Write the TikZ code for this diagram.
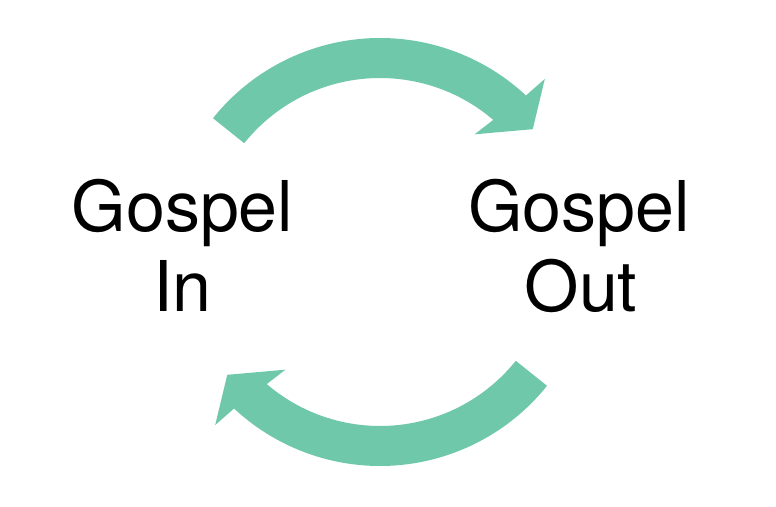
\documentclass[tikz,border=0pt]{standalone}
\usepackage{fontspec}
\setmainfont{TeX Gyre Heros}
\definecolor{arrowgreen}{RGB}{112,200,171}
\tikzset{
  lbl/.style={inner sep=0pt, anchor=base, font=\fontsize{70}{80}\selectfont, text=black},
  blockarrow/.style={fill=arrowgreen, draw=none}
}
\begin{document}
\begin{tikzpicture}[x=1pt,y=1pt]
\useasboundingbox (0,0) rectangle (776,506);
\coordinate (C) at (380,254);
% top arrow (In -> Out)
\begin{scope}[shift={(C)}]
  \fill[blockarrow] (141.3:214) arc[start angle=141.3, end angle=47, radius=214]
    -- (46.4:239) -- (38.8:196) -- (51.2:151) -- (49.4:174)
    arc[start angle=49.4, end angle=141.3, radius=174] -- cycle;
\end{scope}
% bottom arrow (Out -> In)
\begin{scope}[shift={(C)}, rotate=180]
  \fill[blockarrow] (141.3:214) arc[start angle=141.3, end angle=47, radius=214]
    -- (46.4:239) -- (38.8:196) -- (51.2:151) -- (49.4:174)
    arc[start angle=49.4, end angle=141.3, radius=174] -- cycle;
\end{scope}
\node[lbl] (inA) at (182.5,274) {Gospel};
\node[lbl] (inB) at (182.5,194) {In};
\node[lbl] (outA) at (579,274) {Gospel};
\node[lbl] (outB) at (581,194) {Out};
\end{tikzpicture}
\end{document}
